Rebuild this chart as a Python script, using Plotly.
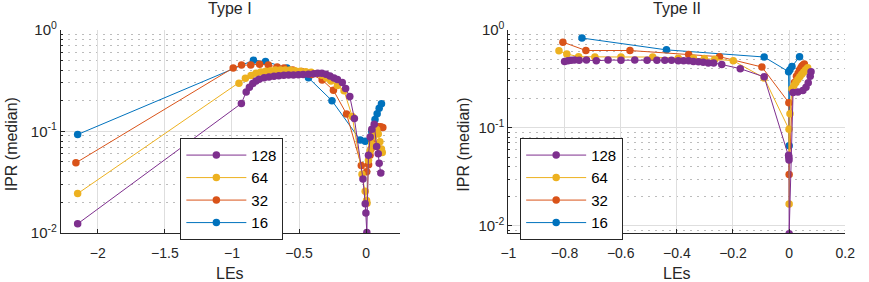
import plotly.graph_objects as go

# ---------------- Data: Type I ----------------
t1_16_x = [-2.15, -0.84, -0.75, -0.59, -0.43, -0.255, -0.044, -0.007, 0.042, 0.066, 0.082, 0.097, 0.114]
t1_16_y = [0.093, 0.50, 0.485, 0.42, 0.336, 0.20, 0.082, 0.080, 0.099, 0.131, 0.149, 0.169, 0.187]

t1_32_x = [-2.163, -0.991, -0.929, -0.86, -0.794, -0.729, -0.663, -0.612, -0.547, -0.481, -0.408, -0.328,
           -0.244, -0.146, -0.036, 0.004, 0.018, 0.029, 0.036, 0.044, 0.052, 0.062, 0.077, 0.092, 0.108, 0.124]
t1_32_y = [0.049, 0.42, 0.448, 0.448, 0.458, 0.448, 0.43, 0.42, 0.40, 0.387, 0.363, 0.32,
           0.253, 0.148, 0.046, 0.040, 0.047, 0.058, 0.067, 0.079, 0.094, 0.104, 0.108, 0.111, 0.111, 0.109]

t1_64_x = [-2.15, -0.948, -0.90, -0.858, -0.821, -0.785, -0.749, -0.712, -0.676, -0.639, -0.603, -0.567,
           -0.53, -0.49, -0.45, -0.41, -0.37, -0.33, -0.295, -0.262, -0.214, -0.165, -0.104, -0.031,
           -0.007, 0.003, 0.006, 0.017, 0.029, 0.042, 0.053, 0.066, 0.078, 0.09, 0.102, 0.114, 0.12]
t1_64_y = [0.0244, 0.297, 0.333, 0.353, 0.373, 0.384, 0.39, 0.395, 0.40, 0.40, 0.40, 0.40,
           0.395, 0.39, 0.385, 0.38, 0.37, 0.355, 0.335, 0.313, 0.282, 0.25, 0.14, 0.0378,
           0.0257, 0.0209, 0.0196, 0.052, 0.064, 0.074, 0.088, 0.098, 0.104, 0.094, 0.079, 0.067, 0.062]

t1_128_x = [-2.15, -0.93, -0.894, -0.87, -0.845, -0.821, -0.797, -0.76, -0.724, -0.687, -0.651, -0.614,
            -0.578, -0.542, -0.505, -0.47, -0.43, -0.39, -0.36, -0.33, -0.30, -0.27, -0.24, -0.214,
            -0.178, -0.153, -0.122, -0.088, -0.024, -0.007, -0.002, 0.005, 0.017, 0.03, 0.042, 0.06,
            0.078, 0.09, 0.097, 0.109]
t1_128_y = [0.0123, 0.188, 0.244, 0.272, 0.296, 0.313, 0.325, 0.336, 0.343, 0.348, 0.352, 0.355,
            0.357, 0.358, 0.36, 0.362, 0.365, 0.368, 0.372, 0.373, 0.365, 0.35, 0.335, 0.324,
            0.302, 0.263, 0.22, 0.134, 0.034, 0.0194, 0.0157, 0.0101, 0.058, 0.088, 0.105, 0.117,
            0.071, 0.060, 0.0485, 0.039]

# ---------------- Data: Type II ----------------
t2_16_x = [-0.738, -0.437, -0.089, -0.002, 0.0, 0.003, 0.010, 0.037]
t2_16_y = [0.821, 0.622, 0.526, 0.373, 0.0655, 0.39, 0.42, 0.53]

t2_32_x = [-0.806, -0.724, -0.567, -0.358, -0.248, -0.097, -0.001, 0.0, 0.012, 0.019, 0.026, 0.032,
           0.037, 0.042, 0.046, 0.050, 0.054]
t2_32_y = [0.746, 0.613, 0.613, 0.557, 0.53, 0.416, 0.18, 0.0334, 0.24, 0.29, 0.334, 0.36,
           0.387, 0.41, 0.425, 0.437, 0.447]

t2_64_x = [-0.82, -0.792, -0.75, -0.692, -0.599, -0.486, -0.395, -0.341, -0.302, -0.265, -0.199, -0.089,
           -0.0005, 0.0, 0.003, 0.010, 0.017, 0.024, 0.031, 0.038, 0.045, 0.052, 0.059, 0.066]
t2_64_y = [0.608, 0.565, 0.53, 0.526, 0.526, 0.526, 0.51, 0.51, 0.507, 0.50, 0.482, 0.322,
           0.0964, 0.0167, 0.139, 0.25, 0.27, 0.29, 0.31, 0.33, 0.35, 0.37, 0.39, 0.41]

t2_128_x = [-0.80, -0.788, -0.777, -0.765, -0.748, -0.722, -0.687, -0.645, -0.599, -0.55, -0.506, -0.471,
            -0.443, -0.419, -0.395, -0.376, -0.358, -0.341, -0.323, -0.306, -0.288, -0.269, -0.24, -0.174,
            -0.089, -0.002, -0.001, -0.0005, 0.0, 0.014, 0.031, 0.049, 0.06, 0.068, 0.075, 0.078]
t2_128_y = [0.474, 0.482, 0.488, 0.49, 0.488, 0.49, 0.482, 0.49, 0.488, 0.49, 0.488, 0.488,
            0.488, 0.488, 0.482, 0.482, 0.482, 0.474, 0.47, 0.465, 0.457, 0.457, 0.441, 0.40,
            0.33, 0.0525, 0.05, 0.047, 0.0083, 0.228, 0.232, 0.24, 0.258, 0.288, 0.334, 0.373]

series_names = ["16", "32", "64", "128"]
colors = {"16": "#0072BD", "32": "#D95319", "64": "#EDB120", "128": "#7E2F8E"}

type1 = {"16": (t1_16_x, t1_16_y), "32": (t1_32_x, t1_32_y), "64": (t1_64_x, t1_64_y), "128": (t1_128_x, t1_128_y)}
type2 = {"16": (t2_16_x, t2_16_y), "32": (t2_32_x, t2_32_y), "64": (t2_64_x, t2_64_y), "128": (t2_128_x, t2_128_y)}

W, H = 869, 282
FONT = "Liberation Sans, Arial, Helvetica, sans-serif"
AX = "#262626"

fig = go.Figure()
for name in series_names:
    x, y = type1[name]
    fig.add_trace(go.Scatter(x=x, y=y, mode="lines+markers", name=name,
                             line=dict(color=colors[name], width=1),
                             marker=dict(color=colors[name], size=7.5),
                             xaxis="x", yaxis="y", legend="legend"))
for name in series_names:
    x, y = type2[name]
    fig.add_trace(go.Scatter(x=x, y=y, mode="lines+markers", name=name,
                             line=dict(color=colors[name], width=1),
                             marker=dict(color=colors[name], size=7.5),
                             xaxis="x2", yaxis="y2", legend="legend2"))

minor_vals = [k * 10.0 ** d for d in (-3, -2, -1) for k in range(2, 10)]
ytick_vals = [0.01, 0.1, 1]
ytick_text = ["10<sup>-2</sup>", "10<sup>-1</sup>", "10<sup>0</sup>"]


def px_x(p):
    return p / W


def px_y(p):
    return (H - p) / H


common_x = dict(showline=True, linecolor=AX, linewidth=1, ticks="inside", ticklen=4, tickcolor=AX,
                showgrid=True, gridcolor="#dedede", gridwidth=1, zeroline=False,
                ticklabelstandoff=7,
                tickfont=dict(family=FONT, size=14, color=AX), mirror=False)
common_y = dict(type="log", showline=True, linecolor=AX, linewidth=1, ticks="inside", ticklen=4,
                tickcolor=AX, showgrid=True, gridcolor="#dedede", gridwidth=1, zeroline=False,
                tickmode="array", tickvals=ytick_vals, ticktext=ytick_text,
                tickfont=dict(family=FONT, size=15, color=AX), mirror=False,
                minor=dict(tickmode="array", tickvals=minor_vals, showgrid=True, griddash="2px,5px",
                           gridcolor="#bcbcbc", gridwidth=1, ticks="inside", ticklen=2, tickcolor=AX))

fig.update_layout(
    width=W, height=H, margin=dict(l=0, r=0, t=0, b=0),
    paper_bgcolor="white", plot_bgcolor="white",
    font=dict(family=FONT, size=14, color=AX),
    xaxis=dict(domain=[px_x(54), px_x(400)], range=[-2.275, 0.25], anchor="y",
               tickvals=[-2, -1.5, -1, -0.5, 0], **common_x),
    yaxis=dict(domain=[px_y(238), px_y(20)], range=[-2, 0], anchor="x", **common_y),
    xaxis2=dict(domain=[px_x(511), px_x(855)], range=[-1, 0.2], anchor="y2",
                tickvals=[-1, -0.8, -0.6, -0.4, -0.2, 0, 0.2], **common_x),
    yaxis2=dict(domain=[px_y(238), px_y(20)], range=[-2.073, 0], anchor="x2", **common_y),
    legend=dict(x=px_x(176), y=px_y(136), xanchor="left", yanchor="top", traceorder="reversed",
                bgcolor="white", bordercolor=AX, borderwidth=1, itemwidth=60,
                font=dict(family=FONT, size=15, color="#000000")),
    legend2=dict(x=px_x(523), y=px_y(136), xanchor="left", yanchor="top", traceorder="reversed",
                 bgcolor="white", bordercolor=AX, borderwidth=1, itemwidth=60,
                 font=dict(family=FONT, size=15, color="#000000")),
    showlegend=True,
)

annots = [
    dict(text="Type I", x=px_x(227), y=px_y(-3), xanchor="center", yanchor="middle"),
    dict(text="Type II", x=px_x(683), y=px_y(-3), xanchor="center", yanchor="middle"),
    dict(text="LEs", x=px_x(227), y=px_y(281), xanchor="center", yanchor="middle"),
    dict(text="LEs", x=px_x(683), y=px_y(281), xanchor="center", yanchor="middle"),
    dict(text="IPR (median)", x=px_x(3), y=px_y(143), xanchor="center", yanchor="middle", textangle=-90),
    dict(text="IPR (median)", x=px_x(465), y=px_y(143), xanchor="center", yanchor="middle", textangle=-90),
]
for a in annots:
    fig.add_annotation(xref="paper", yref="paper", showarrow=False, borderpad=0,
                       font=dict(family=FONT, size=16, color=AX), **a)

fig.write_html("out.html")
